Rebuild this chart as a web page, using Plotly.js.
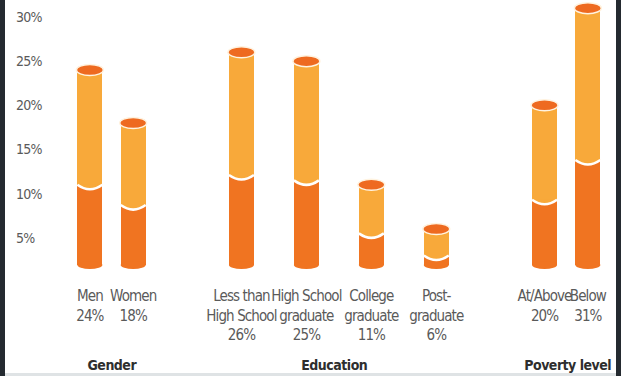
<!DOCTYPE html>
<html><head><meta charset="utf-8">
<script src="https://cdn.plot.ly/plotly-3.0.1.min.js"></script>
<style>
html,body{margin:0;padding:0;}
#wrap{position:relative;width:621px;height:376px;background:#dfe3e5;overflow:hidden;}
#ls{position:absolute;left:0;top:0;width:5px;height:376px;background:#242a30;}
#rs{position:absolute;left:616px;top:0;width:5px;height:376px;background:#242a30;}
#chart{position:absolute;left:5px;top:0;width:611px;height:373px;background:#fff;}
#chart g.xtick text{letter-spacing:-0.9px;}
#chart g.ytick text{letter-spacing:-0.8px;}
#chart g.annotation text{letter-spacing:-0.5px;}
</style></head>
<body>
<div id="wrap"><div id="ls"></div><div id="rs"></div><div id="chart"></div></div>
<script>
// ---- data ----
const categories = ['Men','Women','Less than High School','High School graduate','College graduate','Post-graduate','At/Above','Below'];
const tickLabels = ['Men<br>24%','Women<br>18%','Less than<br>High School<br>26%','High School<br>graduate<br>25%','College<br>graduate<br>11%','Post-<br>graduate<br>6%','At/Above<br>20%','Below<br>31%'];
const totals = [24, 18, 26, 25, 11, 6, 20, 31];
const lowerPart = [11, 8.7, 12.1, 11.5, 5.5, 3.0, 9.3, 13.8];
const groupNames = ['Gender', 'Education', 'Poverty level'];
const groupOf = [0, 0, 1, 1, 1, 1, 2, 2];
const yTickVals = [5, 10, 15, 20, 25, 30];
const yTickText = ['5%', '10%', '15%', '20%', '25%', '30%'];
// ---- layout helpers (slot spacing of the category axis) ----
const slotIndex = [0, 2, 7, 10, 13, 16, 21, 23];

const nSlots = 24;
const catArray = [];
for (let i = 0; i < nSlots; i++) {
  const k = slotIndex.indexOf(i);
  catArray.push(k >= 0 ? categories[k] : ' '.repeat(i + 1));
}
const upperPart = totals.map((t, i) => +(t - lowerPart[i]).toFixed(2));

const DARK = '#f07421', LIGHT = '#f8a93a', CAP = '#ee6a20';
const BW = 1.16;

const traces = [
  {type:'bar', x:categories, y:lowerPart, width:BW, marker:{color:DARK, line:{width:0}}, hoverinfo:'skip', showlegend:false},
  {type:'bar', x:categories, y:upperPart, width:BW, marker:{color:LIGHT, line:{width:0}}, hoverinfo:'skip', showlegend:false}
];

const shapes = [];
categories.forEach((c, i) => {
  shapes.push({type:'circle', xref:'x', yref:'paper', xsizemode:'pixel', ysizemode:'pixel',
    xanchor:slotIndex[i], yanchor:0, x0:-12.5, x1:12.5, y0:-4, y1:4, fillcolor:DARK, line:{width:0}, layer:'above'});
  shapes.push({type:'path', xref:'x', yref:'y', xsizemode:'pixel', ysizemode:'pixel',
    xanchor:slotIndex[i], yanchor:lowerPart[i], path:'M -12.5,0.5 Q 0,-9 12.5,0.5 Z', fillcolor:LIGHT, line:{width:0}, layer:'above'});
  shapes.push({type:'path', xref:'x', yref:'y', xsizemode:'pixel', ysizemode:'pixel',
    xanchor:slotIndex[i], yanchor:lowerPart[i], path:'M -12.5,0 Q 0,-9 12.5,0', line:{color:'#ffffff', width:2.5}, layer:'above'});
  shapes.push({type:'circle', xref:'x', yref:'y', xsizemode:'pixel', ysizemode:'pixel',
    xanchor:slotIndex[i], yanchor:totals[i], x0:-13.5, x1:13.5, y0:-5.5, y1:5.5, fillcolor:CAP, line:{color:'#fff3e0', width:1.5}, layer:'above'});
});

const FONT = 'Liberation Sans Narrow, DejaVu Sans Condensed, Arial Narrow, sans-serif';
const annotations = groupNames.map((g, gi) => {
  const idx = slotIndex.filter((s, i) => groupOf[i] === gi);
  const mid = idx.reduce((a, b) => a + b, 0) / idx.length;
  const base = {text:'<b>' + g + '</b>', yref:'paper', y:0, yshift:-100, showarrow:false, yanchor:'middle',
    font:{family:FONT, size:14, color:'#2e2e2e'}};
  if (gi === 2) return Object.assign(base, {xref:'paper', x:1, xanchor:'right', xshift:0});
  return Object.assign(base, {xref:'x', x:mid, xanchor:'center', xshift: gi === 1 ? -4 : 0});
});

const layout = {
  width:611, height:373,
  margin:{l:5, r:0, t:0, b:108},
  paper_bgcolor:'#ffffff', plot_bgcolor:'#ffffff',
  barmode:'stack',
  font:{family:FONT, color:'#5a5a5a', size:14},
  xaxis:{type:'category', categoryorder:'array', categoryarray:catArray, range:[-3.69, 24.3],
    tickvals:categories, ticktext:tickLabels, ticks:'', ticklabelstandoff:20, tickangle:0,
    showgrid:false, zeroline:false, showline:false, fixedrange:true,
    tickfont:{family:FONT, size:15, color:'#5a5a5a'}},
  yaxis:{range:[1.92, 31.92], tickvals:yTickVals, ticktext:yTickText, ticklabelposition:'inside', ticklabelstandoff:3,
    showgrid:false, zeroline:false, showline:false, ticks:'', fixedrange:true,
    tickfont:{family:FONT, size:14, color:'#5a5a5a'}},
  shapes:shapes, annotations:annotations
};
Plotly.newPlot('chart', traces, layout, {displayModeBar:false, staticPlot:true});
</script>
</body></html>
